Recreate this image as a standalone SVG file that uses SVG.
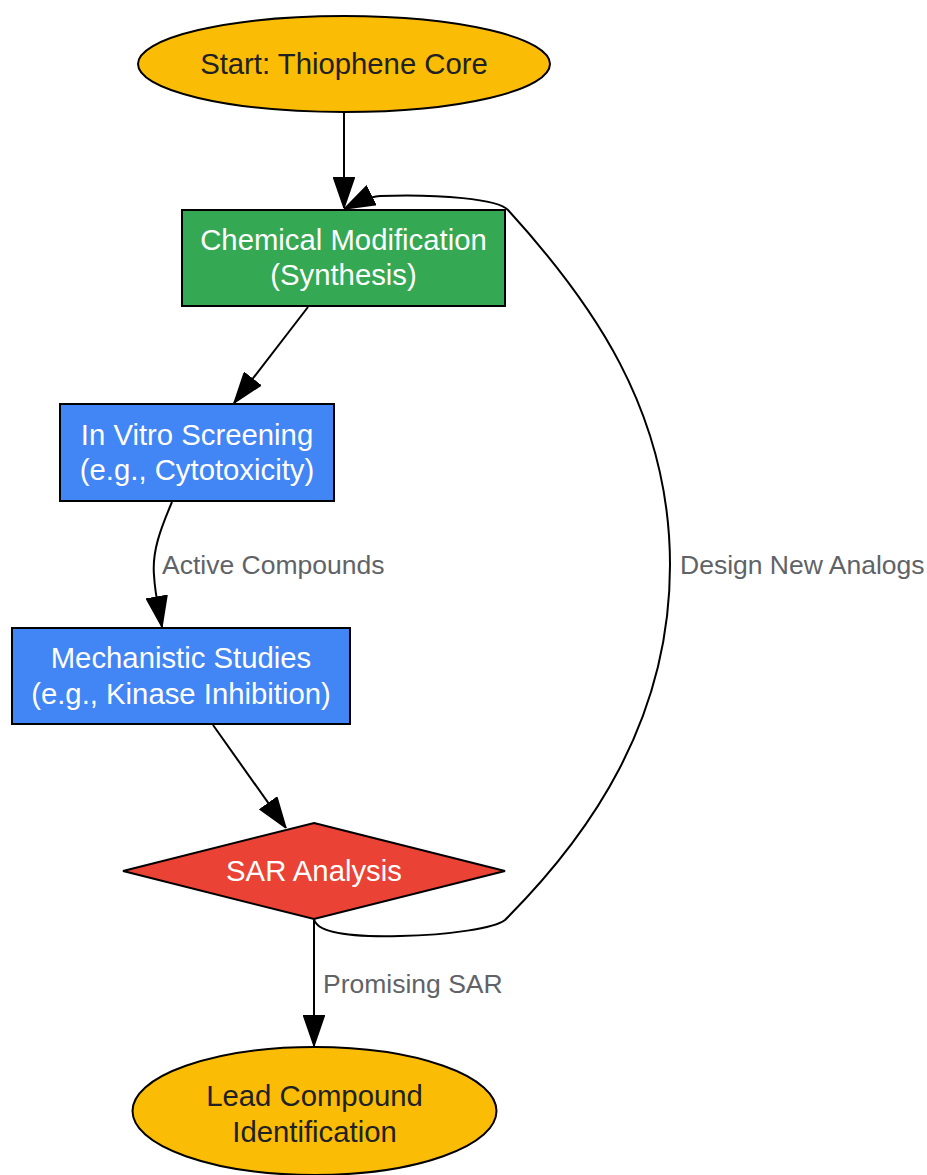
<svg xmlns="http://www.w3.org/2000/svg" width="927" height="1175" viewBox="0 0 927 1175">
<style>
.n{stroke:#000;stroke-width:2}
.y{fill:#fbbc05}.g{fill:#34a853}.b{fill:#4285f4}.r{fill:#ea4335}
.t{font-family:"Liberation Sans",Arial,sans-serif;font-size:29.3px;text-anchor:middle}
.dk{fill:#202124}.wt{fill:#ffffff}
.e{fill:none;stroke:#000;stroke-width:2;marker-end:url(#ah)}
.lb{font-family:"Liberation Sans",Arial,sans-serif;font-size:26.5px;fill:#5f6368}
</style>
<defs>
<marker id="ah" viewBox="0 0 31 22" markerWidth="31" markerHeight="22" refX="31" refY="11" orient="auto" markerUnits="userSpaceOnUse">
<path d="M1,1 L30,11 L1,21 z" fill="#000" stroke="#000" stroke-width="2"/>
</marker>
</defs>
<rect width="927" height="1175" fill="#fff"/>
<g id="edges">
<path class="e" d="M344,112 L344,208"/>
<path class="e" d="M308,307 L234,403"/>
<path class="e" d="M172,502 C160,530 152,552 154,575 C155,595 159,610 162,627"/>
<path class="e" d="M213,725 L286,828"/>
<path class="e" d="M314,919 L314,1046"/>
<path class="e" d="M314,919 C317,935 360,937 400,936 C450,935 495,928 505,920 C590,835 670,720 670,565 C670,410 590,300 508,210 C498,199 440,194 380,196 C368,197 356,203 344,209"/>
<text class="lb" x="162" y="574">Active Compounds</text>
<text class="lb" x="323" y="993">Promising SAR</text>
<text class="lb" x="680" y="574">Design New Analogs</text>
</g>
<g id="start">
<ellipse class="n y" cx="344" cy="64" rx="206" ry="48"/>
<text class="t dk" x="344" y="74">Start: Thiophene Core</text>
</g>
<g id="chem">
<rect class="n g" x="182" y="210" width="323" height="96"/>
<text class="t wt" x="343.5" y="250">Chemical Modification</text>
<text class="t wt" x="343.5" y="285">(Synthesis)</text>
</g>
<g id="invitro">
<rect class="n b" x="60" y="404" width="274" height="97"/>
<text class="t wt" x="197" y="445">In Vitro Screening</text>
<text class="t wt" x="197" y="480">(e.g., Cytotoxicity)</text>
</g>
<g id="mech">
<rect class="n b" x="12" y="628" width="338" height="96"/>
<text class="t wt" x="181" y="668">Mechanistic Studies</text>
<text class="t wt" x="181" y="704">(e.g., Kinase Inhibition)</text>
</g>
<g id="sar">
<polygon class="n r" points="314,823 505,871 314,919 123,871"/>
<text class="t wt" x="314" y="881">SAR Analysis</text>
</g>
<g id="lead">
<ellipse class="n y" cx="314.5" cy="1111" rx="182" ry="64"/>
<text class="t dk" x="314.5" y="1106">Lead Compound</text>
<text class="t dk" x="314.5" y="1142">Identification</text>
</g>
</svg>
